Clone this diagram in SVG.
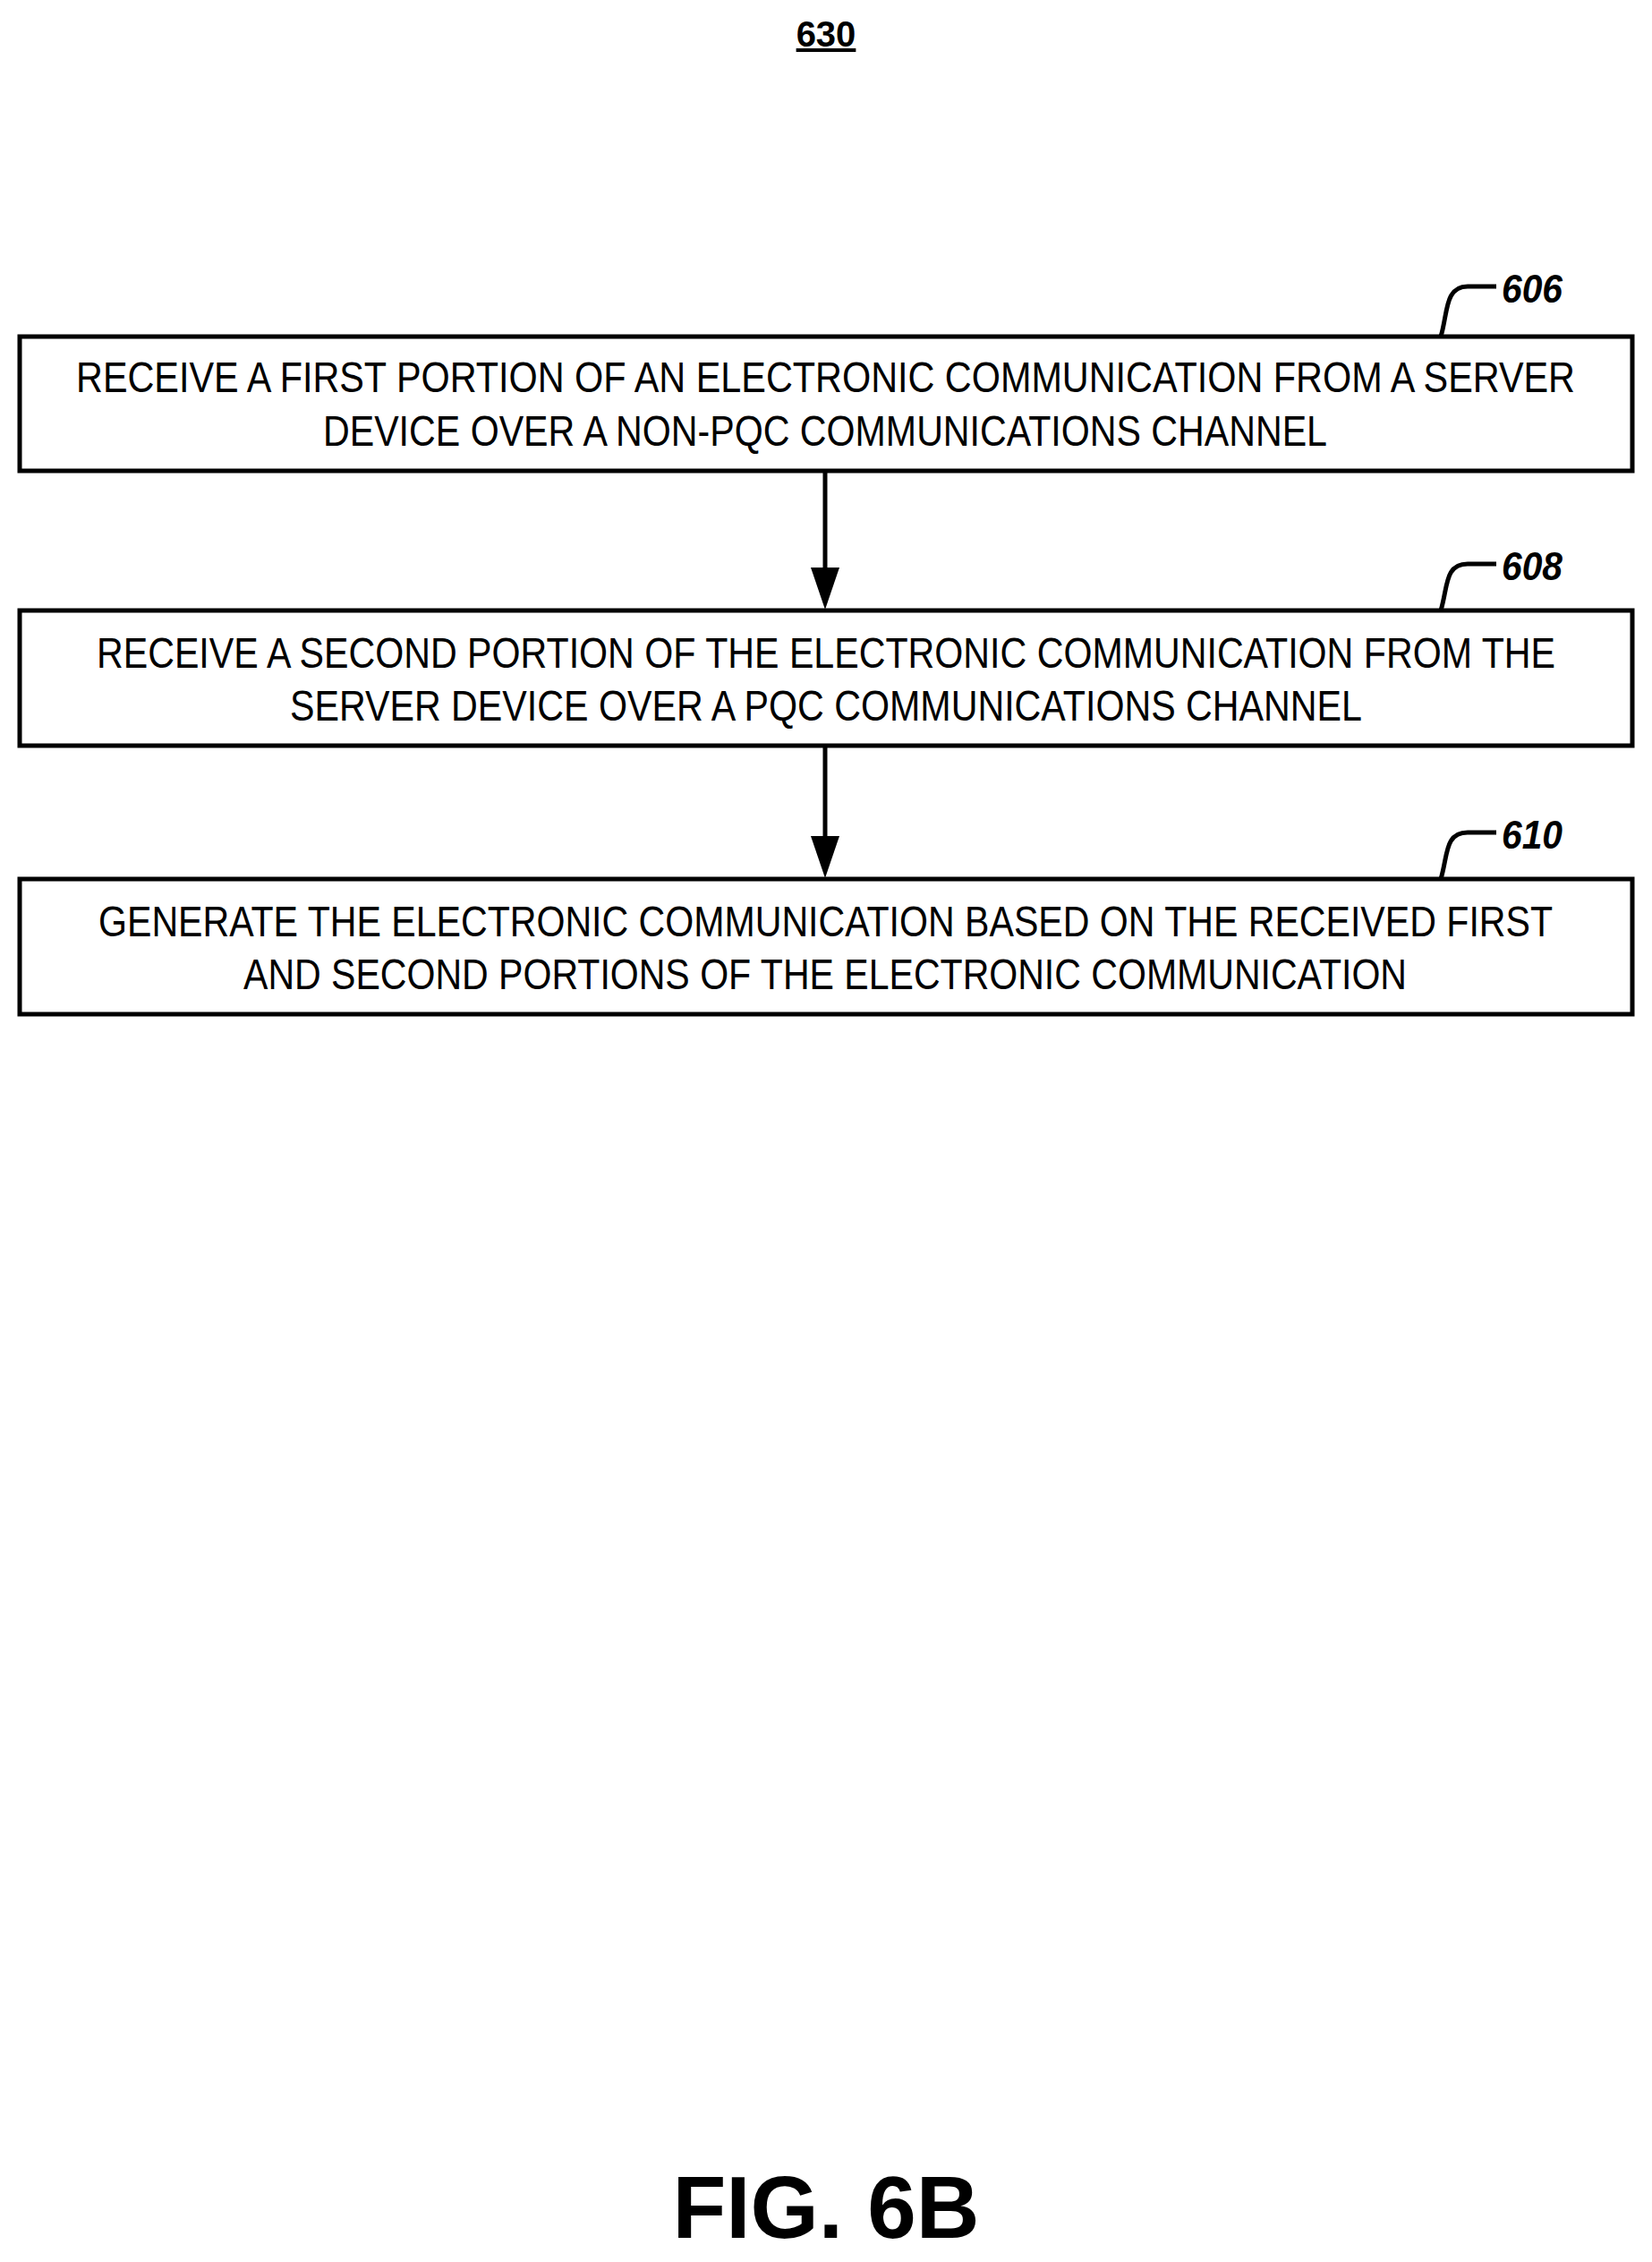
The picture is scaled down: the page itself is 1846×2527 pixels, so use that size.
<svg xmlns="http://www.w3.org/2000/svg" width="1846" height="2527" viewBox="0 0 1846 2527">
<style>
.box{fill:#fff;stroke:#000;stroke-width:5}
.t{font-family:"Liberation Sans",Arial,sans-serif;font-size:49px;fill:#000}
.ref{font-family:"Liberation Sans",Arial,sans-serif;font-size:44px;font-weight:bold;font-style:italic;fill:#000}
.lead{fill:none;stroke:#000;stroke-width:5}
.c{stroke:#000;stroke-width:5;fill:none}
</style>
<rect width="1846" height="2527" fill="#fff"/>
<text x="923" y="52" text-anchor="middle" font-family="Liberation Sans,Arial,sans-serif" font-size="40" font-weight="bold" text-decoration="underline">630</text>
<g id="n606">
<rect class="box" x="22" y="376" width="1802" height="150"/>
<text class="t" x="85" y="438" textLength="1675" lengthAdjust="spacingAndGlyphs">RECEIVE A FIRST PORTION OF AN ELECTRONIC COMMUNICATION FROM A SERVER</text>
<text class="t" x="361" y="498" textLength="1122" lengthAdjust="spacingAndGlyphs">DEVICE OVER A NON-PQC COMMUNICATIONS CHANNEL</text>
<path class="lead" d="M1610,376 C1618,350 1614,320 1640,320 L1672,320"/>
<text class="ref" x="1678" y="338" textLength="68" lengthAdjust="spacingAndGlyphs">606</text>
</g>
<g id="n608">
<rect class="box" x="22" y="682" width="1802" height="151"/>
<text class="t" x="108" y="746" textLength="1630" lengthAdjust="spacingAndGlyphs">RECEIVE A SECOND PORTION OF THE ELECTRONIC COMMUNICATION FROM THE</text>
<text class="t" x="324" y="805" textLength="1198" lengthAdjust="spacingAndGlyphs">SERVER DEVICE OVER A PQC COMMUNICATIONS CHANNEL</text>
<path class="lead" d="M1610,682 C1618,656 1614,630 1640,630 L1672,630"/>
<text class="ref" x="1678" y="648" textLength="68" lengthAdjust="spacingAndGlyphs">608</text>
</g>
<g id="n610">
<rect class="box" x="22" y="982" width="1802" height="151"/>
<text class="t" x="110" y="1046" textLength="1625" lengthAdjust="spacingAndGlyphs">GENERATE THE ELECTRONIC COMMUNICATION BASED ON THE RECEIVED FIRST</text>
<text class="t" x="272" y="1105" textLength="1300" lengthAdjust="spacingAndGlyphs">AND SECOND PORTIONS OF THE ELECTRONIC COMMUNICATION</text>
<path class="lead" d="M1610,982 C1618,956 1614,930 1640,930 L1672,930"/>
<text class="ref" x="1678" y="948" textLength="68" lengthAdjust="spacingAndGlyphs">610</text>
</g>
<g id="connectors">
<line class="c" x1="922" y1="528" x2="922" y2="640"/>
<path d="M906,634 L938,634 L922,681 z" fill="#000"/>
<line class="c" x1="922" y1="835" x2="922" y2="940"/>
<path d="M906,934 L938,934 L922,981 z" fill="#000"/>
</g>
<text x="923" y="2500" text-anchor="middle" font-family="Liberation Sans,Arial,sans-serif" font-size="98" font-weight="bold">FIG. 6B</text>
</svg>
